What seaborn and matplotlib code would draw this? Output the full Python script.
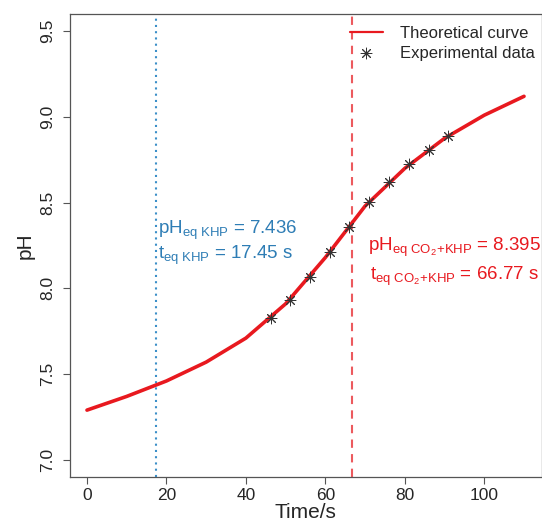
import numpy as np
import pandas as pd
import matplotlib
matplotlib.use('Agg')
import matplotlib.pyplot as plt
import seaborn as sns

# theoretical titration curve
theo_time = [0, 10, 20, 30, 40, 50, 60, 70, 80, 90, 100, 110]
theo_ph = [7.29, 7.37, 7.46, 7.57, 7.71, 7.91, 8.18, 8.48, 8.70, 8.875, 9.01, 9.12]

# experimental data
exp_time = [46.3, 51.2, 56.1, 61.1, 66.0, 71.0, 76.1, 81.0, 86.1, 90.9]
exp_ph = [7.829, 7.935, 8.069, 8.215, 8.360, 8.504, 8.623, 8.726, 8.809, 8.891]

# equivalence points
t_eq_khp = 17.45
ph_eq_khp = 7.436
t_eq_co2 = 66.77
ph_eq_co2 = 8.395

theo = pd.DataFrame({'time': theo_time, 'pH': theo_ph})
expd = pd.DataFrame({'time': exp_time, 'pH': exp_ph})

sns.set_theme(style='ticks')
plt.rcParams['font.family'] = ['Liberation Sans', 'DejaVu Sans']
plt.rcParams['mathtext.fontset'] = 'custom'
plt.rcParams['mathtext.rm'] = 'Liberation Sans'
plt.rcParams['mathtext.it'] = 'Liberation Sans'

fig = plt.figure(figsize=(5.42, 5.29), dpi=100)
ax = fig.add_axes([69.5/542, 1 - 477/529, 472/542, 463/529])

red = '#e8191f'
blue = '#2e7db5'

ax.axvline(t_eq_khp, color='#3b8fc8', ls=(0, (1, 2)), lw=1.5, zorder=1)
ax.axvline(t_eq_co2, color='#ec5a5e', ls=(0, (4, 3)), lw=1.5, zorder=1)

sns.lineplot(data=theo, x='time', y='pH', ax=ax, color=red, lw=2.6,
             label='Theoretical curve', zorder=2)
sns.scatterplot(data=expd, x='time', y='pH', ax=ax, marker=(8, 2, 0),
                s=60, color='#333333', edgecolor='#333333', linewidth=0.7,
                label='Experimental data', zorder=3)

ax.set_xlim(-4.4, 114.4)
ax.set_ylim(6.9, 9.6)
ax.set_xticks([0, 20, 40, 60, 80, 100])
ax.set_yticks([7.0, 7.5, 8.0, 8.5, 9.0, 9.5])
ax.set_yticklabels(['7.0', '7.5', '8.0', '8.5', '9.0', '9.5'], rotation=90, va='center')
ax.tick_params(axis='both', labelsize=12.5, length=5, width=0.8, color='#555555',
               direction='out')
ax.tick_params(axis='x', pad=3)
ax.tick_params(axis='y', pad=5)
for sp in ax.spines.values():
    sp.set_color('#555555')
    sp.set_linewidth(0.9)
    sp.set_visible(True)

ax.set_xlabel('Time/s', fontsize=15, labelpad=0)
ax.set_ylabel('pH', fontsize=15, labelpad=4)

ax.text(t_eq_khp + 0.3, 8.34, r'pH$_{\rm eq\ KHP}$ = %.3f' % ph_eq_khp,
        color=blue, fontsize=13.5, ha='left', va='center')
ax.text(t_eq_khp + 0.3, 8.19, r't$_{\rm eq\ KHP}$ = %.2f s' % t_eq_khp,
        color=blue, fontsize=13.5, ha='left', va='center')
ax.text(92.6, 8.24, r'pH$_{\rm eq\ CO_2\!+\!KHP}$ = %.3f' % ph_eq_co2,
        color=red, fontsize=13.5, ha='center', va='center')
ax.text(92.6, 8.07, r't$_{\rm eq\ CO_2\!+\!KHP}$ = %.2f s' % t_eq_co2,
        color=red, fontsize=13.5, ha='center', va='center')

leg = ax.legend(loc='upper right', bbox_to_anchor=(1.01, 1.0), frameon=False,
                fontsize=12, handlelength=2.0, handletextpad=1.0,
                labelspacing=0.3, borderaxespad=0.3)
leg.get_lines()[0].set_linewidth(1.6)

fig.savefig('out.png', dpi=100)
